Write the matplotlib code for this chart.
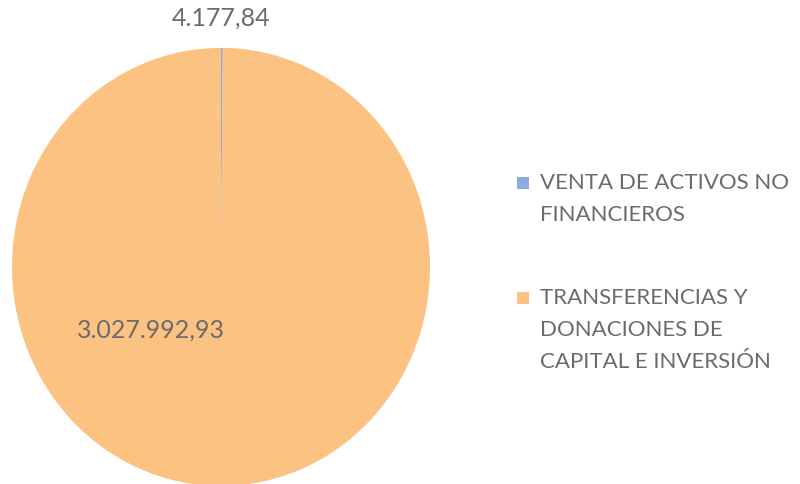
import matplotlib.pyplot as plt
from matplotlib.patches import Rectangle

plt.rcParams['font.family'] = ['Lato', 'DejaVu Sans']

categorias = ['VENTA DE ACTIVOS NO\nFINANCIEROS',
              'TRANSFERENCIAS Y\nDONACIONES DE\nCAPITAL E INVERSIÓN']
valores = [4177.84, 3027992.93]
colores = ['#8FAADC', '#FBC281']


def formato(v):
    # formato espanol: 3.027.992,93
    s = '{:,.2f}'.format(v)
    return s.replace(',', '#').replace('.', ',').replace('#', '.')


fig = plt.figure(figsize=(8, 4.84), dpi=100)
# el escaneo esta un poco estirado en vertical, por eso aspect auto
ax = fig.add_axes([0.015, -0.004, 0.5225, 0.905])
wedges, _ = ax.pie(valores, colors=colores, startangle=90, counterclock=False,
                   wedgeprops={'linewidth': 0})
ax.set_xlim(-1, 1)
ax.set_ylim(-1, 1)
ax.set_aspect('auto')

gris = '#6b6b6b'
ax.text(0.0, 1.137, formato(valores[0]), ha='center', va='center', fontsize=18, color=gris)
ax.text(-0.335, -0.288, formato(valores[1]), ha='center', va='center', fontsize=18, color=gris)

# leyenda a mano: cuadro alineado con la primera linea
W, H = 800, 484
y_lineas = [[183, 215], [298, 330, 362]]
for cat, col, ys in zip(categorias, colores, y_lineas):
    fig.patches.append(Rectangle(((517) / W, 1 - (ys[0] + 6) / H), 12 / W, 12 / H,
                                 transform=fig.transFigure, facecolor=col,
                                 edgecolor='none'))
    for linea, y in zip(cat.split('\n'), ys):
        fig.text(540 / W, 1 - y / H, linea, ha='left', va='center',
                 fontsize=16, color=gris)

fig.savefig('out.png', dpi=100)
